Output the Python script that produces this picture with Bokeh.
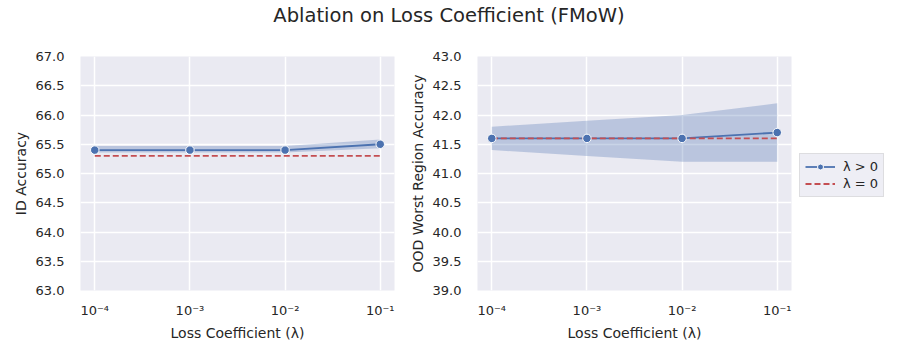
from bokeh.plotting import figure
from bokeh.models import (Range1d, FixedTicker, CustomJSTickFormatter, PrintfTickFormatter,
                          Legend, LegendItem, Div, ColumnDataSource)
from bokeh.layouts import column, row
from bokeh.embed import file_html
from bokeh.resources import INLINE

# ---- data ----
lams = [1e-4, 1e-3, 1e-2, 1e-1]
id_mean = [65.4, 65.4, 65.4, 65.5]
id_lo = [65.36, 65.36, 65.36, 65.43]
id_hi = [65.47, 65.47, 65.47, 65.58]
id_base = [65.3, 65.3, 65.3, 65.3]
ood_mean = [41.6, 41.6, 41.6, 41.7]
ood_lo = [41.4, 41.3, 41.2, 41.2]
ood_hi = [41.8, 41.9, 42.0, 42.2]
ood_base = [41.6, 41.6, 41.6, 41.6]
id_yticks = [63.0, 63.5, 64.0, 64.5, 65.0, 65.5, 66.0, 66.5, 67.0]
ood_yticks = [39.0, 39.5, 40.0, 40.5, 41.0, 41.5, 42.0, 42.5, 43.0]
x_ticks = lams
legend_labels = ["\u03bb > 0", "\u03bb = 0"]

BLUE = "#4C72B0"
RED = "#C44E52"
BG = "#EAEAF2"
TXT = "#262626"
FONT = "DejaVu Sans"

sup_js = """
const sup = {"-":"\u207b","0":"\u2070","1":"\u00b9","2":"\u00b2","3":"\u00b3","4":"\u2074",
             "5":"\u2075","6":"\u2076","7":"\u2077","8":"\u2078","9":"\u2079"};
const e = Math.round(Math.log10(tick));
return "10" + String(e).split("").map(c => sup[c]).join("");
"""

FIG_H = 6 + 235 + 52


def make_panel(mean, lo, hi, base, yticks, ylabel, border_left, border_right):
    p = figure(x_axis_type="log", width=border_left + 314 + border_right, height=FIG_H,
               x_range=Range1d(10 ** -4.15, 10 ** -0.85),
               y_range=Range1d(yticks[0], yticks[-1]),
               output_backend="svg", toolbar_location=None,
               min_border_left=border_left, min_border_right=border_right,
               min_border_top=6, min_border_bottom=52)
    p.background_fill_color = BG
    p.border_fill_color = "white"
    p.outline_line_color = None
    p.xaxis.ticker = FixedTicker(ticks=x_ticks, minor_ticks=[])
    p.xaxis.formatter = CustomJSTickFormatter(code=sup_js)
    p.yaxis.ticker = FixedTicker(ticks=yticks, minor_ticks=[])
    p.yaxis.formatter = PrintfTickFormatter(format="%.1f")
    for ax in (p.xaxis[0], p.yaxis[0]):
        ax.axis_line_color = None
        ax.major_tick_line_color = None
        ax.minor_tick_line_color = None
        ax.major_label_text_font = FONT
        ax.major_label_text_font_size = "13px"
        ax.major_label_text_color = TXT
        ax.axis_label_text_font = FONT
        ax.axis_label_text_font_size = "14px"
        ax.axis_label_text_font_style = "normal"
        ax.axis_label_text_color = TXT
    p.xaxis.major_label_standoff = 6
    p.yaxis.major_label_standoff = 10
    p.xaxis.axis_label = "Loss Coefficient (\u03bb)"
    p.xaxis.axis_label_standoff = 4
    p.yaxis.axis_label = ylabel
    p.yaxis.axis_label_standoff = 4
    for g in (p.xgrid[0], p.ygrid[0]):
        g.grid_line_color = "white"
        g.grid_line_width = 1.5
    src = ColumnDataSource(dict(x=lams, mean=mean, lo=lo, hi=hi, base=base))
    p.varea(x="x", y1="lo", y2="hi", source=src, fill_color=BLUE, fill_alpha=0.3)
    p.line(x="x", y="mean", source=src, line_color=BLUE, line_width=1.8)
    p.line(x="x", y="base", source=src, line_color=RED, line_width=1.8, line_dash="6 3")
    p.scatter(x="x", y="mean", source=src, size=8.5, fill_color=BLUE,
              line_color="white", line_width=1)
    return p, src


p1, _ = make_panel(id_mean, id_lo, id_hi, id_base, id_yticks, "ID Accuracy", 80, 10)
p2, src2 = make_panel(ood_mean, ood_lo, ood_hi, ood_base, ood_yticks,
                      "OOD Worst Region Accuracy", 73, 5)

# legend-only strip to the right of the second panel (its view range excludes the data,
# so only the legend is visible)
p3 = figure(width=92, height=FIG_H, output_backend="svg", toolbar_location=None,
            x_range=Range1d(0, 1), y_range=Range1d(0, 1),
            min_border_left=0, min_border_right=0, min_border_top=0, min_border_bottom=0,
            x_axis_location=None, y_axis_location=None)
p3.outline_line_color = None
p3.xgrid.visible = False
p3.ygrid.visible = False
lg_line = p3.line(x="x", y="mean", source=src2, line_color=BLUE, line_width=1.8)
lg_pts = p3.scatter(x="x", y="mean", source=src2, size=8, fill_color=BLUE,
                    line_color="white", line_width=1)
lg_base = p3.line(x="x", y="base", source=src2, line_color=RED, line_width=1.8,
                  line_dash="6 3")
legend = Legend(items=[LegendItem(label=legend_labels[0], renderers=[lg_line, lg_pts]),
                       LegendItem(label=legend_labels[1], renderers=[lg_base])],
                location=(3, 93), margin=0, padding=5, spacing=2,
                glyph_width=30, glyph_height=15, label_standoff=8,
                label_text_font=FONT, label_text_font_size="13px",
                label_text_color=TXT, border_line_color="#CCCCCC",
                background_fill_color=BG, background_fill_alpha=0.8)
p3.add_layout(legend)

title = Div(text='<div style="width:888px;text-align:center;font-family:\'DejaVu Sans\';'
                 'font-size:19.5px;color:#262626;line-height:22px;">'
                 'Ablation on Loss Coefficient (FMoW)</div>',
            width=888, height=40)

layout = column(title, row(p1, p2, p3))

with open("out.html", "w", encoding="utf-8") as f:
    f.write(file_html(layout, INLINE))
